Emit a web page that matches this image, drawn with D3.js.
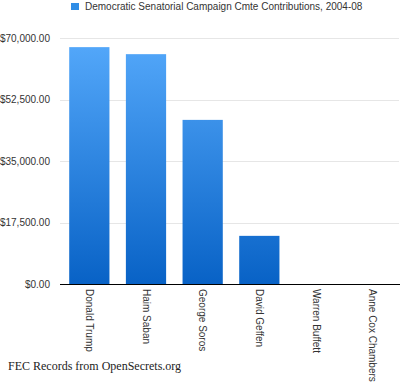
<!DOCTYPE html>
<html><head><meta charset="utf-8">
<script src="https://cdn.jsdelivr.net/npm/d3@7"></script>
<style>body{margin:0;background:#fff}svg{display:block}</style>
</head><body>
<svg id="c" width="401" height="382"></svg>
<script>
const categories = ["Donald Trump","Haim Saban","George Soros","David Geffen","Warren Buffett","Anne Cox Chambers"];
const values = [67400, 65400, 46700, 13700, 0, 0];
const yTicks = [0, 17500, 35000, 52500, 70000];
const seriesName = "Democratic Senatorial Campaign Cmte Contributions, 2004-08";
const footer = "FEC Records from OpenSecrets.org";

const svg = d3.select("#c");
const font = "Helvetica, Arial, 'Liberation Sans', sans-serif";
const x = d3.scaleBand().domain(categories).range([61, 401]).paddingInner(0.29).paddingOuter(0.145);
const y = d3.scaleLinear().domain([0, 70000]).range([284, 38]);

const defs = svg.append("defs");
const g = defs.append("linearGradient").attr("id","bg")
  .attr("gradientUnits","userSpaceOnUse").attr("y1",y(70000)).attr("y2",y(0)).attr("x1",0).attr("x2",0);
g.append("stop").attr("offset","0%").attr("stop-color","#55a9fb");
g.append("stop").attr("offset","100%").attr("stop-color","#0862c6");

// gridlines
svg.append("g").selectAll("line").data(yTicks.filter(d=>d>0)).join("line")
  .attr("x1",60).attr("x2",399).attr("y1",d=>Math.round(y(d))+0.5).attr("y2",d=>Math.round(y(d))+0.5)
  .attr("stroke","#e6e6e6").attr("stroke-width",1);

// y labels
const fmt = d => "$" + d3.format(",.2f")(d);
svg.append("g").selectAll("text").data(yTicks).join("text")
  .attr("x",50).attr("y",d=>y(d)).attr("dy","0.35em").attr("text-anchor","end")
  .attr("font-family",font).attr("font-size",10).attr("fill","#333").text(fmt);

// bars
svg.append("g").selectAll("rect").data(values).join("rect")
  .attr("x",(d,i)=>x(categories[i])).attr("width",x.bandwidth())
  .attr("y",d=>y(d)).attr("height",d=>y(0)-y(d)).attr("fill","url(#bg)");

// axis line
svg.append("line").attr("x1",60).attr("x2",400).attr("y1",284.5).attr("y2",284.5).attr("stroke","#000").attr("stroke-width",1);

// x labels
svg.append("g").selectAll("text").data(categories).join("text")
  .attr("transform",d=>`translate(${x(d)+x.bandwidth()/2},289) rotate(90)`)
  .attr("dy","0.35em").attr("font-family",font).attr("font-size",10).attr("fill","#333").text(d=>d);

// legend
svg.append("rect").attr("x",71).attr("y",3).attr("width",8).attr("height",7).attr("fill","#2f8de6");
svg.append("text").attr("x",85).attr("y",6.5).attr("dy","0.35em").attr("font-family",font).attr("font-size",10)
  .attr("fill","#333").text(seriesName);

// footer
svg.append("text").attr("x",8).attr("y",370).attr("font-family","'Times New Roman','Liberation Serif',serif")
  .attr("font-size",12).attr("fill","#222").text(footer);
</script>
</body></html>
